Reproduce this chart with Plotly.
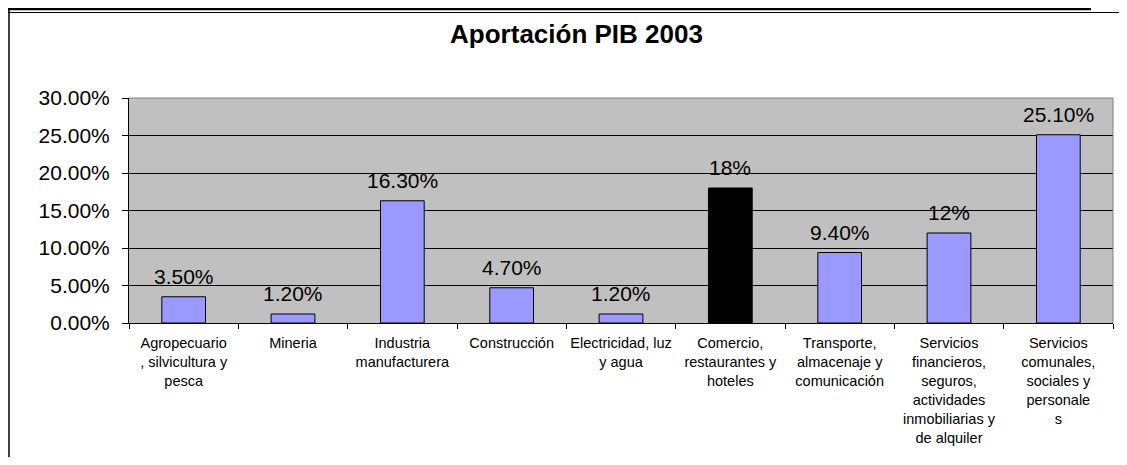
import plotly.graph_objects as go

categories = [
    "Agropecuario<br>, silvicultura y<br>pesca",
    "Mineria",
    "Industria<br>manufacturera",
    "Construcción",
    "Electricidad, luz<br>y agua",
    "Comercio,<br>restaurantes y<br>hoteles",
    "Transporte,<br>almacenaje y<br>comunicación",
    "Servicios<br>financieros,<br>seguros,<br>actividades<br>inmobiliarias y<br>de alquiler",
    "Servicios<br>comunales,<br>sociales y<br>personale<br>s",
]
values = [0.035, 0.012, 0.163, 0.047, 0.012, 0.18, 0.094, 0.12, 0.251]
value_labels = ["3.50%", "1.20%", "16.30%", "4.70%", "1.20%", "18%", "9.40%", "12%", "25.10%"]
bar_colors = ["#9999FF"] * 5 + ["#000000"] + ["#9999FF"] * 3

# page body has an ~8px margin, so coordinates are offset by 8
OFF = 8
W, H = 1127 - 2 * OFF, 465 - 2 * OFF
L, R, T, B = 129 - OFF, 1113 - OFF, 98 - OFF, 323 - OFF

FONT = "Liberation Sans, Arial"

fig = go.Figure(go.Bar(
    x=categories, y=values,
    marker=dict(color=bar_colors, line=dict(color="#000000", width=1)),
    width=0.40,
))

for c, v, t in zip(categories, values, value_labels):
    fig.add_annotation(x=c, y=v, text=t, showarrow=False, yanchor="bottom", yshift=7,
                       font=dict(size=21, color="#000000", family=FONT))

def fx(x):
    return (x - OFF - L) / (R - L)

def fy(y):
    return (B - (y - OFF)) / (B - T)

shapes = [
    dict(type="line", xref="paper", yref="paper", x0=fx(9), x1=fx(9), y0=fy(9), y1=fy(480),
         line=dict(color="#000000", width=1.5)),
    dict(type="line", xref="paper", yref="paper", x0=fx(8), x1=fx(1091), y0=fy(9.2), y1=fy(9.2),
         line=dict(color="#000000", width=2.2)),
    dict(type="line", xref="paper", yref="paper", x0=fx(8), x1=fx(1140), y0=fy(12.5), y1=fy(12.5),
         line=dict(color="#000000", width=1)),
    dict(type="line", xref="paper", yref="paper", x0=0, x1=1, y0=1, y1=1,
         line=dict(color="#808080", width=1)),
    dict(type="line", xref="paper", yref="paper", x0=1, x1=1, y0=0, y1=1,
         line=dict(color="#808080", width=1)),
]

fig.update_layout(
    width=W, height=H,
    margin=dict(l=L, r=W - R, t=T, b=H - B, autoexpand=False),
    paper_bgcolor="#FFFFFF", plot_bgcolor="#C0C0C0",
    font=dict(family=FONT, color="#000000"),
    title=dict(text="<b>Aportación PIB 2003</b>", x=(576.5 - OFF) / W, xanchor="center",
               y=1 - (34 - OFF) / H, yanchor="middle",
               font=dict(size=26, family=FONT, color="#000000")),
    showlegend=False,
    shapes=shapes,
)
fig.update_yaxes(
    range=[0, 0.30], dtick=0.05, tickformat=".2%",
    showgrid=True, gridcolor="#000000", gridwidth=1,
    ticks="outside", ticklen=6, tickcolor="#000000",
    tickfont=dict(size=21), ticklabelstandoff=8,
    showline=True, linecolor="#000000", linewidth=1,
    zeroline=False,
)
fig.update_xaxes(
    tickson="boundaries", ticks="outside", ticklen=5, tickcolor="#000000",
    tickfont=dict(size=14.5), tickangle=0, ticklabelstandoff=7,
    showline=True, linecolor="#000000", linewidth=1,
)

fig.write_html("out.html")
